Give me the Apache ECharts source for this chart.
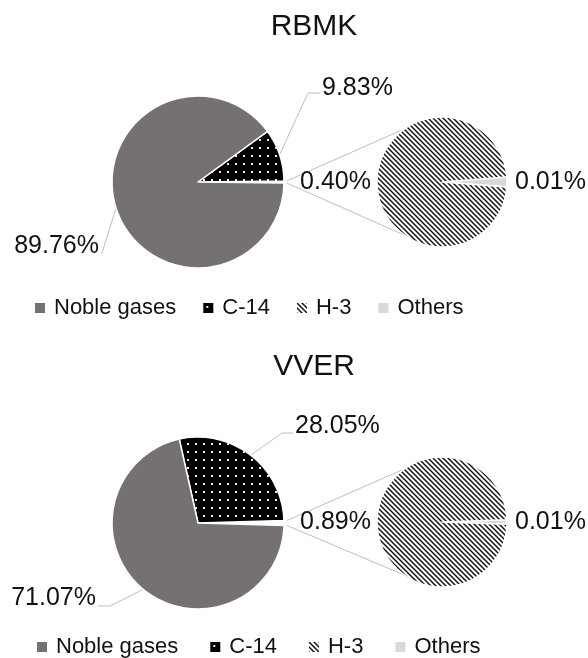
<!DOCTYPE html>
<html>
<head>
<meta charset="utf-8">
<script src="https://cdn.jsdelivr.net/npm/echarts@6/dist/echarts.min.js"></script>
<style>
  html, body { margin: 0; padding: 0; background: #fff; }
  #chart { width: 588px; height: 658px; }
</style>
</head>
<body>
<div id="chart"></div>
<script>
// Shares of gaseous release by nuclide group, per reactor type
const categories = ['Noble gases', 'C-14', 'H-3', 'Others'];
const panelTitles = ['RBMK', 'VVER'];
const rbmkValues = [89.76, 9.83, 0.40, 0.01];
const vverValues = [71.07, 28.05, 0.89, 0.01];
const panelValues = [rbmkValues, vverValues];

// ---- layout / style ----
const FONT = 'Liberation Sans';
const TEXT = '#111111';
const LINE = '#bfbfbf';
const NOBLE = '#767171';
const OTHERS = '#d9d9d9';
const panels = [
  { main: [198, 182], sub: [442, 182], titleTop: 7, legendTop: 291, legendLeft: 30, legendGap: 27 },
  { main: [198, 523], sub: [442, 522], titleTop: 347, legendTop: 630, legendLeft: 32, legendGap: 32 }
];
const R_MAIN = 86, R_SUB = 65;
const CONNECT_DEG = 125;   // where the connector lines meet the secondary pie

// label placement of the main-pie labels: elbow relative to pie centre, horizontal tail, text offset
const mainLabelSpec = [
  { 'C-14': { ex: 110, ey: -89, tail: 12, dy: -5 }, 'Noble gases': { ex: -96, ey: 71, tail: -1, dy: -7 } },
  { 'C-14': { ex: 84, ey: -90, tail: 11, dy: -7 }, 'Noble gases': { ex: -88, ey: 83, tail: -12, dy: -8 } }
];

// ---- fill patterns ----
function dotPattern() {
  const c = document.createElement('canvas');
  c.width = 8; c.height = 8;
  const g = c.getContext('2d');
  g.fillStyle = '#000'; g.fillRect(0, 0, 8, 8);
  g.fillStyle = '#e8e8e8'; g.fillRect(3, 3, 2, 2);
  return { image: c, repeat: 'repeat' };
}
function hatchPattern() {
  const s = 5;
  const c = document.createElement('canvas');
  c.width = s; c.height = s;
  const g = c.getContext('2d');
  g.fillStyle = '#fff'; g.fillRect(0, 0, s, s);
  g.strokeStyle = '#111'; g.lineWidth = 1.5;
  for (const o of [-s, 0, s]) {
    g.beginPath(); g.moveTo(o - 1, -1); g.lineTo(o + s + 1, s + 1); g.stroke();
  }
  return { image: c, repeat: 'repeat' };
}
const colorOf = {
  'Noble gases': NOBLE,
  'C-14': dotPattern(),
  'H-3': hatchPattern(),
  'Others': OTHERS
};

const fmt = v => v.toFixed(2) + '%';
const rad = d => d * Math.PI / 180;

const series = [];
const graphics = [];
const titles = [];
const legends = [];
const geom = [];   // per series: angles for label placement

panelValues.forEach((v, p) => {
  const P = panels[p];
  const [noble, c14, h3, others] = v;
  const mainTotal = noble + c14 + h3 + others;
  const otherDeg = (h3 + others) / mainTotal * 360;
  const c14Deg = c14 / mainTotal * 360;
  const nobleDeg = noble / mainTotal * 360;
  const subTotal = h3 + others;
  const othersDeg = others / subTotal * 360;

  // main pie: combined slice centred at 3 o'clock, then C-14, then noble gases (counter-clockwise)
  geom.push({
    type: 'main', panel: p, center: P.main, r: R_MAIN,
    mid: { 'C-14': otherDeg / 2 + c14Deg / 2, 'Noble gases': otherDeg / 2 + c14Deg + nobleDeg / 2 }
  });
  series.push({
    type: 'pie', center: P.main, radius: R_MAIN,
    startAngle: -otherDeg / 2, clockwise: false, avoidLabelOverlap: false,
    itemStyle: { borderColor: '#fff', borderWidth: 1.5 },
    emphasis: { disabled: true },
    label: { show: true, position: 'outside', formatter: q => fmt(q.value), fontSize: 25, color: TEXT, fontFamily: FONT },
    labelLine: { show: true, lineStyle: { color: LINE, width: 1 } },
    data: [
      { name: 'Other', value: h3 + others, itemStyle: { color: '#fff' }, label: { show: false }, labelLine: { show: false } },
      { name: 'C-14', value: c14, itemStyle: { color: colorOf['C-14'] } },
      { name: 'Noble gases', value: noble, itemStyle: { color: colorOf['Noble gases'] } }
    ]
  });

  // secondary pie: breakdown of the combined slice
  geom.push({ type: 'sub', panel: p, center: P.sub, r: R_SUB });
  series.push({
    type: 'pie', center: P.sub, radius: R_SUB,
    startAngle: -othersDeg / 2, clockwise: false, avoidLabelOverlap: false,
    itemStyle: { borderColor: '#fff', borderWidth: 1.5 },
    emphasis: { disabled: true },
    label: { show: true, position: 'outside', formatter: q => fmt(q.value), fontSize: 25, color: TEXT, fontFamily: FONT },
    labelLine: { show: false },
    data: [
      { name: 'Others', value: others, itemStyle: { color: colorOf['Others'] } },
      { name: 'H-3', value: h3, itemStyle: { color: colorOf['H-3'] } }
    ]
  });

  // connector lines from the combined slice to the secondary pie
  const [mx, my] = P.main, [sx, sy] = P.sub;
  [1, -1].forEach(sgn => {
    const a0 = rad(sgn * otherDeg / 2);
    const a1 = rad(sgn * CONNECT_DEG);
    graphics.push({
      type: 'line', silent: true, z: 1,
      shape: {
        x1: mx + (R_MAIN + 3) * Math.cos(a0), y1: my - (R_MAIN + 3) * Math.sin(a0),
        x2: sx + R_SUB * Math.cos(a1), y2: sy - R_SUB * Math.sin(a1)
      },
      style: { stroke: LINE, lineWidth: 1 }
    });
  });

  titles.push({
    text: panelTitles[p], left: 309, top: P.titleTop, textAlign: 'center',
    textStyle: { fontSize: 30, fontWeight: 'normal', color: TEXT, fontFamily: FONT }
  });
  legends.push({
    data: categories, left: P.legendLeft, top: P.legendTop, orient: 'horizontal',
    icon: 'rect', itemWidth: 10, itemHeight: 10, itemGap: P.legendGap,
    selectedMode: false,
    itemStyle: { borderWidth: 0 },
    textStyle: { fontSize: 22, lineHeight: 24, color: TEXT, fontFamily: FONT, padding: [0, 0, 0, 4] }
  });
});

function labelLayout(params) {
  const g = geom[params.seriesIndex];
  if (!g) return;
  const name = series[params.seriesIndex].data[params.dataIndex].name;
  const [cx, cy] = g.center;
  if (g.type === 'sub') {
    if (name === 'H-3') return { x: cx - g.r - 6, y: cy, align: 'right', verticalAlign: 'middle' };
    return { x: cx + g.r + 8, y: cy, align: 'left', verticalAlign: 'middle' };
  }
  const spec = mainLabelSpec[g.panel][name];
  if (!spec) return;
  const a = rad(g.mid[name]);
  const sx = cx + g.r * Math.cos(a), sy = cy - g.r * Math.sin(a);
  const ex = cx + spec.ex, ey = cy + spec.ey;
  const tx = ex + spec.tail;
  const right = spec.tail >= 0 && spec.ex > 0;
  return {
    x: right ? tx + 2 : tx - 2, y: ey + spec.dy,
    align: right ? 'left' : 'right', verticalAlign: 'middle',
    labelLinePoints: [[sx, sy], [ex, ey], [tx, ey]]
  };
}
series.forEach(s => { s.labelLayout = labelLayout; });

const chart = echarts.init(document.getElementById('chart'), null, { renderer: 'canvas' });
chart.setOption({
  animation: false,
  backgroundColor: '#fff',
  textStyle: { fontFamily: FONT },
  title: titles,
  legend: legends,
  series: series,
  graphic: { elements: graphics }
});
</script>
</body>
</html>
